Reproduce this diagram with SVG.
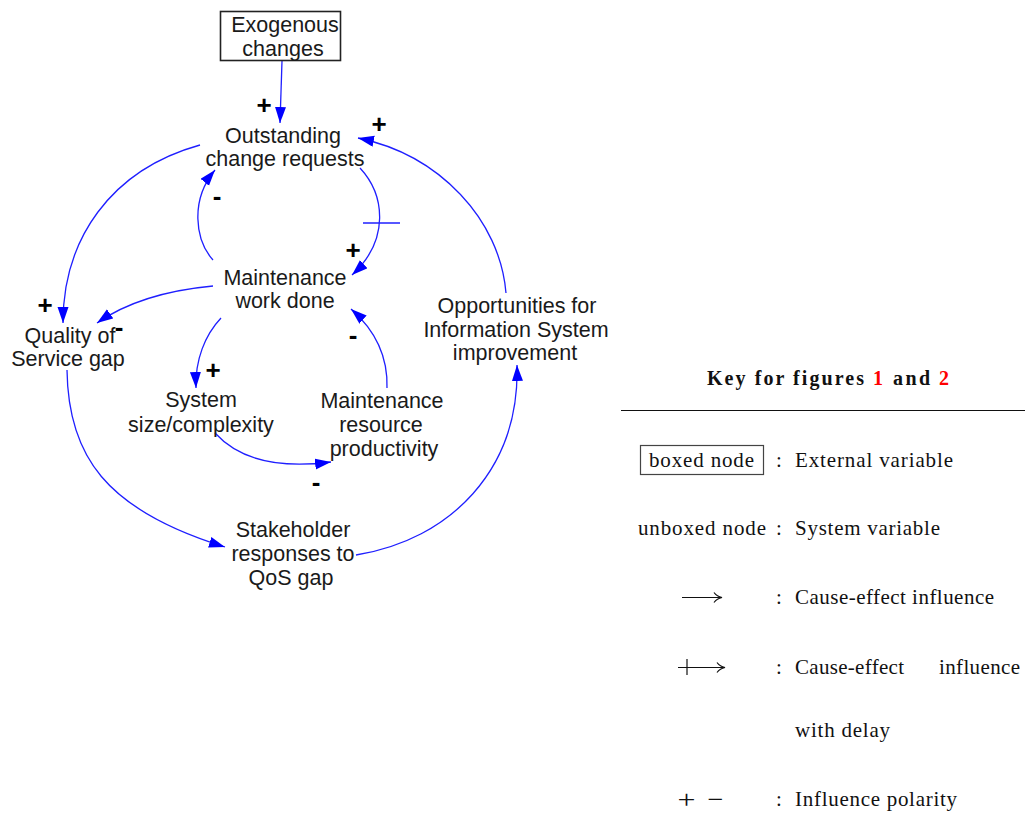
<svg xmlns="http://www.w3.org/2000/svg" width="1025" height="814" viewBox="0 0 1025 814">
<style>
.n{font-family:"Liberation Sans",Arial,sans-serif;font-size:21.5px;fill:#1a1a1a;text-anchor:middle}
.c{fill:none;stroke:#1f1fff;stroke-width:1.3}
.s{font-family:"Liberation Sans",Arial,sans-serif;font-size:26px;font-weight:bold;fill:#000;text-anchor:middle}
.k{font-family:"Liberation Serif","Times New Roman",serif;font-size:21px;fill:#111}
.kb{font-family:"Liberation Serif","Times New Roman",serif;font-size:20px;font-weight:bold;fill:#111}
.kp{font-family:"Liberation Serif","Times New Roman",serif;font-size:26px;fill:#111;text-anchor:middle}
.ks{fill:none;stroke:#111;stroke-width:1.2}
</style>
<defs>
<marker id="ah" markerUnits="userSpaceOnUse" markerWidth="18" markerHeight="12" refX="16" refY="5.5" orient="auto">
<path d="M0,0 L16,5.5 L0,11 z" fill="#0000ff"/>
</marker>
</defs>
<rect width="1025" height="814" fill="#fff"/>

<g id="connectors">
<path class="c" d="M282,61 L280,123" marker-end="url(#ah)"/>
<path class="c" d="M200,145 C110,170 63,240 63,323" marker-end="url(#ah)"/>
<path class="c" d="M213,260 C195,240 190,200 215,170" marker-end="url(#ah)"/>
<path class="c" d="M360,168 C385,195 390,240 352,275" marker-end="url(#ah)"/>
<path class="c" d="M363,223 L400,223"/>
<path class="c" d="M506,293 C500,220 440,155 358,138" marker-end="url(#ah)"/>
<path class="c" d="M213,286 C170,290 130,300 97,323" marker-end="url(#ah)"/>
<path class="c" d="M221,318 C205,335 195,360 196,388" marker-end="url(#ah)"/>
<path class="c" d="M215,433 C235,455 270,470 331,462" marker-end="url(#ah)"/>
<path class="c" d="M387,388 C388,355 375,330 351,309" marker-end="url(#ah)"/>
<path class="c" d="M67,370 C68,455 105,510 225,547" marker-end="url(#ah)"/>
<path class="c" d="M356,555 C450,540 520,470 517,365" marker-end="url(#ah)"/>
</g>

<g id="exogenous">
<rect x="220.5" y="11.5" width="120" height="49" fill="none" stroke="#222" stroke-width="1.6"/>
<text class="n" x="285" y="32">Exogenous</text>
<text class="n" x="283" y="56">changes</text>
</g>
<g id="outstanding">
<text class="n" x="283" y="143">Outstanding</text>
<text class="n" x="285" y="166">change requests</text>
</g>
<g id="maintenance-work">
<text class="n" x="285" y="285">Maintenance</text>
<text class="n" x="285" y="308">work done</text>
</g>
<g id="qos-gap">
<text class="n" x="70" y="343">Quality of</text>
<text class="n" x="68" y="366">Service gap</text>
</g>
<g id="system-size">
<text class="n" x="201" y="407">System</text>
<text class="n" x="201" y="432">size/complexity</text>
</g>
<g id="resource-productivity">
<text class="n" x="382" y="408">Maintenance</text>
<text class="n" x="381" y="432">resource</text>
<text class="n" x="384" y="456">productivity</text>
</g>
<g id="opportunities">
<text class="n" x="517" y="313">Opportunities for</text>
<text class="n" x="516" y="337">Information System</text>
<text class="n" x="515" y="360">improvement</text>
</g>
<g id="stakeholder">
<text class="n" x="293" y="537">Stakeholder</text>
<text class="n" x="293" y="561">responses to</text>
<text class="n" x="291" y="585">QoS gap</text>
</g>

<g id="polarities">
<text class="s" x="264" y="114">+</text>
<text class="s" x="379" y="133">+</text>
<text class="s" x="217" y="205">-</text>
<text class="s" x="353" y="259">+</text>
<text class="s" x="45" y="314">+</text>
<text class="s" x="119" y="336">-</text>
<text class="s" x="213" y="379">+</text>
<text class="s" x="353" y="344">-</text>
<text class="s" x="316" y="491">-</text>
</g>

<g id="key">
<text class="kb" y="385"><tspan x="707" textLength="157">Key for figures</tspan><tspan x="873" fill="#ff0000">1</tspan><tspan x="893" textLength="37">and</tspan><tspan x="939" fill="#ff0000">2</tspan></text>
<line x1="621" y1="410.5" x2="1025" y2="410.5" stroke="#111" stroke-width="1.2"/>
<rect x="640.5" y="445.5" width="123" height="29" fill="none" stroke="#444" stroke-width="1.2"/>
<text class="k" x="649" y="467" textLength="105">boxed node</text>
<text class="k" x="776" y="467">:</text>
<text class="k" x="795" y="467" textLength="158">External variable</text>
<text class="k" x="638" y="535" textLength="128">unboxed node</text>
<text class="k" x="776" y="535">:</text>
<text class="k" x="795" y="535" textLength="145">System variable</text>
<path class="ks" d="M682,597.5 L721,597.5 M714,592.5 Q717,596.5 722,597.5 Q717,598.5 714,602.5"/>
<text class="k" x="776" y="604">:</text>
<text class="k" x="795" y="604" textLength="199">Cause-effect influence</text>
<path class="ks" d="M678,667.5 L724,667.5 M687,659 L687,675 M717,662.5 Q720,666.5 725,667.5 Q720,668.5 717,672.5"/>
<text class="k" x="776" y="674">:</text>
<text class="k" x="795" y="674" textLength="109">Cause-effect</text>
<text class="k" x="939" y="674" textLength="81">influence</text>
<text class="k" x="795" y="737" textLength="95">with delay</text>
<text class="kp" x="686.5" y="808" textLength="18" lengthAdjust="spacingAndGlyphs">+</text>
<text class="kp" x="715.5" y="808" textLength="16" lengthAdjust="spacingAndGlyphs">−</text>
<text class="k" x="776" y="806">:</text>
<text class="k" x="795" y="806" textLength="162">Influence polarity</text>
</g>
</svg>
